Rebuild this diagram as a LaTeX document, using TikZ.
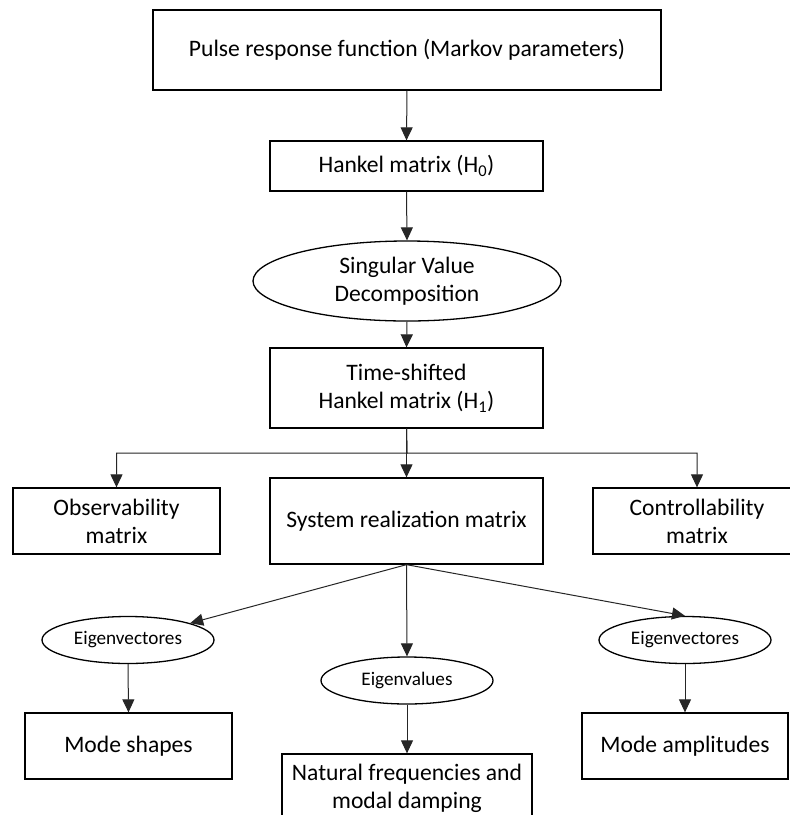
\documentclass[tikz,border=0pt]{standalone}
\usepackage{fontspec}
\setmainfont{Carlito}
\usetikzlibrary{shapes.geometric,arrows.meta}
\begin{document}
\begin{tikzpicture}[x=1pt,y=-1pt,
  box/.style={draw=black,line width=1.3pt,rectangle,inner sep=2pt,align=center,
    font=\fontsize{23.6}{28}\selectfont},
  bigell/.style={draw=black,line width=1.3pt,ellipse,inner sep=0pt,align=center,
    font=\fontsize{23.6}{28}\selectfont},
  smallell/.style={draw=black,line width=1.3pt,ellipse,inner sep=0pt,
    minimum width=172pt,minimum height=47pt,font=\fontsize{19.2}{22}\selectfont},
  arr/.style={draw=black!85,line width=1pt,-{Triangle[length=13pt,width=12pt]}}
]
\clip (0,0) rectangle (790,815);
\fill[white] (0,0) rectangle (790,815);

\node[box,minimum width=508pt,minimum height=80pt] (top) at (407,50)
  {Pulse response function (Markov parameters)};
\node[box,minimum width=273pt,minimum height=50pt] (h0) at (406.5,166)
  {Hankel matrix (H\textsubscript{0})};
\node[bigell,minimum width=308pt,minimum height=80pt] (svd) at (407,281)
  {Singular Value\\Decomposition};
\node[box,minimum width=273pt,minimum height=80pt] (h1) at (406.5,388)
  {Time-shifted\\Hankel matrix (H\textsubscript{1})};
\node[box,minimum width=207pt,minimum height=66pt] (obs) at (116.5,521)
  {Observability\\matrix};
\node[box,minimum width=273pt,minimum height=86pt] (sys) at (406.5,521)
  {System realization matrix};
\node[box,minimum width=208pt,minimum height=66pt] (ctrl) at (697,521)
  {Controllability\\matrix};
\node[smallell] (ev1) at (128,640) {Eigenvectores};
\node[smallell] (eval) at (407,680.5) {Eigenvalues};
\node[smallell] (ev2) at (685,640) {Eigenvectores};
\node[box,minimum width=207pt,minimum height=66pt] (ms) at (128.5,746)
  {Mode shapes};
\node[box,minimum width=250pt,minimum height=68pt] (nf) at (407,788)
  {Natural frequencies and\\modal damping};
\node[box,minimum width=206pt,minimum height=66pt] (ma) at (685,746)
  {Mode amplitudes};

\coordinate (br) at (407,453);

\draw[arr] (top.south) -- (h0.north);
\draw[arr] (h0.south) -- (svd.north);
\draw[arr] (svd.south) -- (h1.north);
\draw[arr] (h1.south) -- (br) -| (obs.north);
\draw[arr] (h1.south) -- (sys.north);
\draw[arr] (h1.south) -- (br) -| (ctrl.north);
\draw[arr] (sys.south) -- (ev1);
\draw[arr] (sys.south) -- (eval.north);
\draw[arr] (sys.south) -- (ev2.north);
\draw[arr] (ev1.south) -- (ms.north);
\draw[arr] (eval.south) -- (nf.north);
\draw[arr] (ev2.south) -- (ma.north);
\end{tikzpicture}
\end{document}
